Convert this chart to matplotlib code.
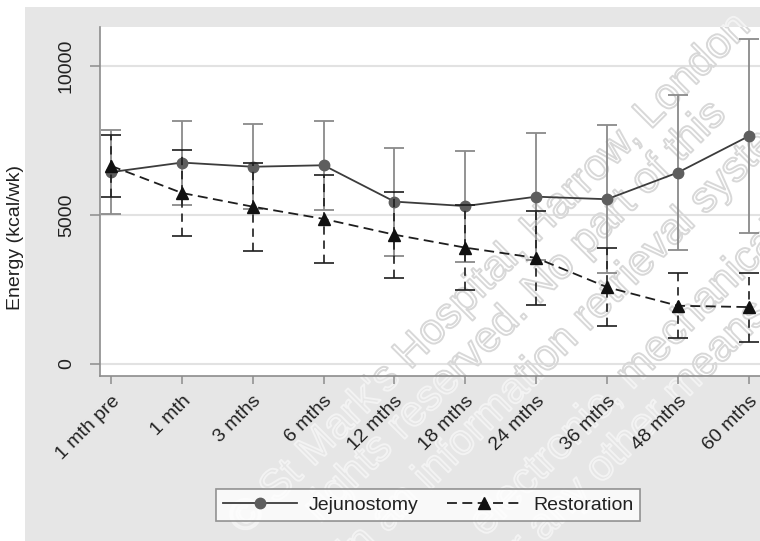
import matplotlib
matplotlib.use('Agg')
import matplotlib.pyplot as plt
import matplotlib.patheffects as pe
from matplotlib.patches import Rectangle
import numpy as np

# values (kcal/wk), mean +/- error
time_points = ['1 mth pre', '1 mth', '3 mths', '6 mths', '12 mths',
               '18 mths', '24 mths', '36 mths', '48 mths', '60 mths']
jej_mean = [6440, 6760, 6620, 6670, 5450, 5300, 5615, 5530, 6425, 7645]
jej_err = [1400, 1410, 1430, 1500, 1810, 1865, 2130, 2475, 2600, 3255]
rest_mean = [6650, 5740, 5280, 4870, 4340, 3905, 3560, 2580, 1955, 1910]
rest_err = [1035, 1430, 1475, 1470, 1445, 1420, 1575, 1305, 1090, 1160]
y_ticks = [0, 5000, 10000]

watermark = ["\u00a9 St Mark's Hospital, Harrow, London",
             "rights reserved. No part of this",
             "in an information retrieval system",
             "electronic, mechanical, or",
             "or any other means"]

W, H = 760, 541


def fx(px):
    return px / W


def fy(py):
    return 1 - py / H


plt.rcParams['font.family'] = ['Liberation Sans', 'DejaVu Sans']
plt.rcParams['font.size'] = 14

fig = plt.figure(figsize=(W / 100, H / 100), dpi=100)
fig.patch.set_facecolor('white')
fig.add_artist(Rectangle((fx(25), 0), 1, fy(7), transform=fig.transFigure,
                         facecolor='#e6e6e6', edgecolor='none', zorder=-5))

ax = fig.add_axes([fx(100), fy(376), fx(660), 349 / H])
x = np.arange(len(time_points))

ax.errorbar(x, jej_mean, yerr=jej_err, fmt='none', ecolor='#8a8a8a',
            elinewidth=1.3, capsize=7, capthick=1.3, zorder=2)
ax.plot(x, jej_mean, '-', color='#3c3c3c', lw=1.3, marker='o', ms=7.5,
        mfc='#5e5e5e', mec='#5e5e5e', label='Jejunostomy', zorder=3)

eb = ax.errorbar(x, rest_mean, yerr=rest_err, fmt='none', ecolor='#1e1e1e',
                 elinewidth=1.2, capsize=7, capthick=1.2, zorder=4)
eb[2][0].set_linestyle((0, (5, 3.5)))
ax.plot(x, rest_mean, color='#1e1e1e', lw=1.3, ls=(0, (5.5, 3)), marker='^',
        ms=8, mfc='#111111', mec='#111111', label='Restoration', zorder=5)

ax.set_xlim(-0.156, 9.16)
ax.set_ylim(-403, 11310)
ax.set_yticks(y_ticks)
ax.set_yticklabels([str(v) for v in y_ticks], rotation=90, va='center')
ax.set_xticks(x)
ax.set_xticklabels(time_points, rotation=45, ha='right', rotation_mode='anchor')

ax.yaxis.grid(True, color='#e2e2e2', lw=1.5)
ax.set_axisbelow(True)
for side in ['top', 'right']:
    ax.spines[side].set_visible(False)
for side in ['left', 'bottom']:
    ax.spines[side].set_color('#8c8c8c')
    ax.spines[side].set_linewidth(1.2)
ax.tick_params(axis='y', length=7, width=1.1, color='#8c8c8c', pad=11,
               labelsize=14, labelcolor='#222222')
ax.tick_params(axis='x', length=6, width=1.1, color='#8c8c8c', pad=6,
               labelsize=14, labelcolor='#222222')

fig.text(fx(16), fy(237), 'Energy (kcal/wk)', rotation=90, va='center',
         ha='center', fontsize=14, color='#222222')

leg = fig.legend(loc='center', bbox_to_anchor=(fx(428), fy(505)), ncol=2,
                 frameon=True, fancybox=False, edgecolor='#7a7a7a',
                 handlelength=3.8, handletextpad=0.6, columnspacing=1.5,
                 borderpad=0.35, fontsize=14)
leg.get_frame().set_linewidth(1.2)
for t in leg.get_texts():
    t.set_color('#222222')

# faint diagonal watermark, (start x, line offset x+y) in pixels
wm_pos = [(237, 765), (312, 828), (347, 905), (477, 1007), (500, 1070)]
for s, (px, c) in zip(watermark, wm_pos):
    kw = dict(rotation=45, rotation_mode='anchor', ha='left', va='center',
              fontsize=31, color='none', transform=fig.transFigure)
    fig.text(fx(px), fy(c - px), s, zorder=-1,
             path_effects=[pe.Stroke(linewidth=1.4, foreground='#f3f3f3')], **kw)
    ax.text(fx(px), fy(c - px), s, zorder=1, clip_on=True,
            path_effects=[pe.Stroke(linewidth=1.4, foreground='#d8d8d8')], **kw)

plt.savefig('out.png', dpi=100)
